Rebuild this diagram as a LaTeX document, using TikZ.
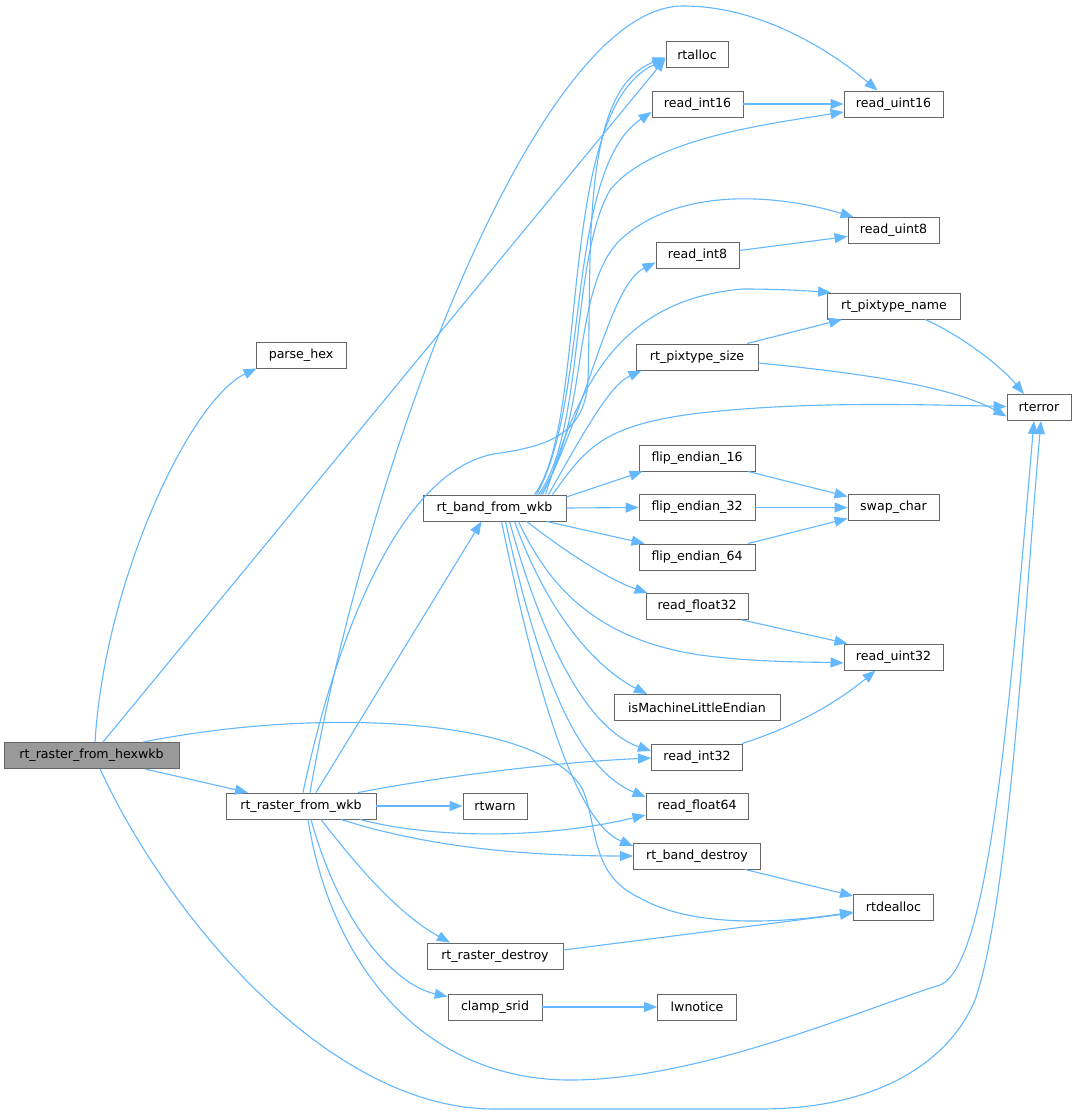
\documentclass[tikz,border=0pt]{standalone}
\usepackage{fontspec}
\setmainfont{DejaVu Sans}
\usetikzlibrary{arrows.meta}
\definecolor{edgeblue}{HTML}{63B8FF}
\definecolor{boxgray}{HTML}{666666}
\definecolor{fillgray}{HTML}{999999}
\begin{document}
\begin{tikzpicture}[x=1pt,y=-1pt,
  fn/.style={draw=boxgray, line width=0.9pt, fill=white, minimum height=26pt, inner sep=0pt, font=\fontsize{12.6}{15}\selectfont, text=black},
  call/.style={draw=edgeblue, line width=1.1pt, -{Triangle[length=13pt,width=10pt]}},
]
\useasboundingbox[fill=white] (0,0) rectangle (1076,1115);
% nodes
\node[fn, minimum width=175pt, fill=fillgray] (H) at (91.5,755.5) {rt\_raster\_from\_hexwkb};
\node[fn, minimum width=90pt] (ph) at (301,355) {parse\_hex};
\node[fn, minimum width=150pt] (W) at (301,806) {rt\_raster\_from\_wkb};
\node[fn, minimum width=62pt] (ra) at (697,54.5) {rtalloc};
\node[fn, minimum width=91pt] (ri16) at (697.5,104) {read\_int16};
\node[fn, minimum width=99pt] (ru16) at (893.5,104) {read\_uint16};
\node[fn, minimum width=91pt] (ru8) at (893.5,230.5) {read\_uint8};
\node[fn, minimum width=83pt] (ri8) at (697.5,255.5) {read\_int8};
\node[fn, minimum width=133pt] (pn) at (894,306) {rt\_pixtype\_name};
\node[fn, minimum width=122pt] (ps) at (697,357) {rt\_pixtype\_size};
\node[fn, minimum width=64pt] (re) at (1039,407.5) {rterror};
\node[fn, minimum width=116pt] (f16) at (697,458) {flip\_endian\_16};
\node[fn, minimum width=116pt] (f32) at (697,507.5) {flip\_endian\_32};
\node[fn, minimum width=116pt] (f64) at (697,557) {flip\_endian\_64};
\node[fn, minimum width=91pt] (sc) at (893.5,507.5) {swap\_char};
\node[fn, minimum width=143pt] (B) at (494.5,508) {rt\_band\_from\_wkb};
\node[fn, minimum width=102pt] (rf32) at (697,606.5) {read\_float32};
\node[fn, minimum width=99pt] (ru32) at (893.5,657) {read\_uint32};
\node[fn, minimum width=166pt] (iml) at (697,707.5) {isMachineLittleEndian};
\node[fn, minimum width=91pt] (ri32) at (697,757) {read\_int32};
\node[fn, minimum width=102pt] (rf64) at (697,806) {read\_float64};
\node[fn, minimum width=64pt] (rw) at (495,806) {rtwarn};
\node[fn, minimum width=127pt] (bd) at (697,856) {rt\_band\_destroy};
\node[fn, minimum width=80pt] (rd) at (893.5,907) {rtdealloc};
\node[fn, minimum width=136pt] (rrd) at (495,956) {rt\_raster\_destroy};
\node[fn, minimum width=94pt] (cs) at (495,1007) {clamp\_srid};
\node[fn, minimum width=79pt] (lw) at (697,1007) {lwnotice};
% edges from rt_raster_from_hexwkb
\draw[call] ([xshift=3.5pt]H.north) .. controls (105,580) and (190,400) .. ([xshift=1pt]ph.south west);
\draw[call] ([xshift=11.5pt]H.north) -- ([yshift=-4pt]ra.west);
\draw[call] ([xshift=53.5pt]H.south) -- ([xshift=-53pt]W.north);
\draw[call] ([xshift=51.5pt]H.north) .. controls (330,705) and (545,720) .. (583,790) .. controls (598,827) and (590,875) .. (640,898) .. controls (700,932) and (800,920) .. ([yshift=-5pt]rd.west);
\draw[call] ([xshift=8.5pt]H.south) .. controls (170,920) and (330,1109) .. (494,1109) -- (760,1109) .. controls (880,1109) and (950,1060) .. (975,1000) .. controls (1010,900) and (1025,600) .. ([xshift=2pt]re.south);
% edges from rt_raster_from_wkb
\draw[call] ([xshift=7pt]W.south) .. controls (330,960) and (420,1080) .. (570,1080) .. controls (700,1080) and (860,1010) .. (940,985) .. controls (990,965) and (1010,700) .. ([xshift=-5pt]re.south);
\draw[call] ([xshift=9pt]W.north) .. controls (370,450) and (540,6) .. (683,6) .. controls (760,6) and (830,50) .. ([xshift=-16pt]ru16.north);
\draw[call] ([xshift=2pt]W.north) .. controls (335,640) and (400,465) .. (500,453) .. controls (555,445) and (585,430) .. (588,380) .. controls (592,250) and (580,90) .. ([yshift=-3pt]ra.west);
\draw[call] ([xshift=15pt]W.north) -- ([xshift=-13pt]B.south);
\draw[call] ([xshift=57pt]W.north) .. controls (450,775) and (560,762) .. ([yshift=-1pt]ri32.west);
\draw[call] (W.east) -- (rw.west);
\draw[call] ([xshift=59pt]W.south) .. controls (430,838) and (540,840) .. ([yshift=-9pt]rf64.west);
\draw[call] ([xshift=40pt]W.south) .. controls (430,848) and (530,856) .. (bd.west);
\draw[call] ([xshift=20pt]W.south) .. controls (360,870) and (400,915) .. ([xshift=-45pt]rrd.north);
\draw[call] ([xshift=10pt]W.south) .. controls (340,925) and (395,985) .. ([yshift=-3pt]cs.north west);
% edges from rt_band_from_wkb
\draw[call] ([xshift=40pt]B.north) .. controls (590,420) and (555,110) .. ([yshift=-5pt]ra.west);
\draw[call] ([xshift=42pt]B.north) .. controls (590,400) and (565,170) .. ([yshift=-8pt]ri16.west);
\draw[call] ([xshift=44pt]B.north) .. controls (585,430) and (570,260) .. (610,190) .. controls (650,140) and (760,125) .. ([yshift=-8pt]ru16.west);
\draw[call] ([xshift=46pt]B.north) .. controls (590,420) and (570,290) .. (620,240) .. controls (680,185) and (780,195) .. ([xshift=-40pt]ru8.north);
\draw[call] ([xshift=48pt]B.north) .. controls (590,400) and (610,285) .. ([yshift=-7pt]ri8.west);
\draw[call] ([xshift=51pt]B.north) .. controls (575,400) and (610,300) .. (743,289) .. controls (780,289) and (810,291) .. ([xshift=4pt]pn.north west);
\draw[call] ([xshift=54pt]B.north) .. controls (585,430) and (610,385) .. ([xshift=6pt]ps.south west);
\draw[call] ([xshift=58pt]B.north) .. controls (585,450) and (600,425) .. (700,413) .. controls (800,402) and (900,404) .. ([yshift=1pt]re.west);
\draw[call] ([yshift=11pt]B.east) -- ([xshift=4pt]f16.south west);
\draw[call] (B.east) -- (f32.west);
\draw[call] ([xshift=52pt]B.south) -- ([xshift=6pt]f64.north west);
\draw[call] ([xshift=32pt]B.south) .. controls (570,555) and (610,580) .. ([xshift=2pt]rf32.north west);
\draw[call] ([xshift=24pt]B.south) .. controls (550,590) and (600,640) .. (700,655) .. controls (760,663) and (820,662) .. ([yshift=-6pt]ru32.west);
\draw[call] ([xshift=20pt]B.south) .. controls (550,620) and (600,670) .. ([xshift=-50pt]iml.north);
\draw[call] ([xshift=15pt]B.south) .. controls (545,650) and (590,730) .. ([yshift=6pt]ri32.west);
\draw[call] ([xshift=11pt]B.south) .. controls (540,680) and (580,770) .. ([yshift=9pt]rf64.west);
\draw[call] ([xshift=7pt]B.south) .. controls (530,660) and (570,820) .. ([yshift=10pt]bd.west);
% other edges
\draw[call] (ri16.east) -- (ru16.west);
\draw[call] ([yshift=5pt]ri8.east) -- ([yshift=-6pt]ru8.west);
\draw[call] ([xshift=50pt]ps.north) -- ([xshift=-52pt]pn.south);
\draw[call] ([yshift=-6pt]ps.east) .. controls (850,372) and (950,385) .. ([yshift=-9pt]re.west);
\draw[call] ([xshift=31pt]pn.south) .. controls (960,335) and (1000,365) .. ([xshift=-15pt]re.north);
\draw[call] ([xshift=51pt]f16.south) -- ([yshift=11pt]sc.west);
\draw[call] (f32.east) -- (sc.west);
\draw[call] ([xshift=51pt]f64.north) -- ([yshift=-11pt]sc.west);
\draw[call] ([xshift=45pt]rf32.south) -- ([xshift=-46pt]ru32.north);
\draw[call] ([xshift=45pt]ri32.north) .. controls (800,725) and (840,700) .. ([xshift=-18pt]ru32.south);
\draw[call] ([xshift=48pt]bd.south) -- ([yshift=11pt]rd.west);
\draw[call] ([yshift=6pt]rrd.east) -- ([yshift=-6pt]rd.west);
\draw[call] (cs.east) -- (lw.west);
\end{tikzpicture}
\end{document}
